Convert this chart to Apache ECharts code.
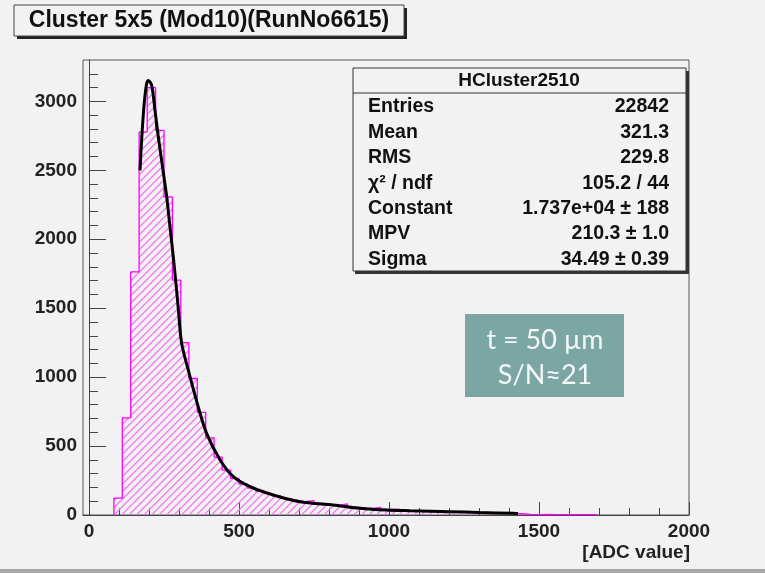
<!DOCTYPE html>
<html>
<head>
<meta charset="utf-8">
<script src="https://cdn.jsdelivr.net/npm/echarts@6/dist/echarts.min.js"></script>
<style>
  html, body { margin: 0; padding: 0; background: #f2f2f2; }
  #chart { width: 765px; height: 573px; }
</style>
</head>
<body>
<div id="chart"></div>
<script>
// histogram bins: left edge of each bin and its count
const binLeft = [83, 111, 139, 167, 194, 222, 250, 278, 306, 333, 361, 389, 417, 444, 472, 500,
  528, 556, 583, 611, 639, 667, 694, 722, 750, 778, 806, 833, 861, 889, 917, 944, 972, 1000,
  1028, 1056, 1083, 1111, 1139, 1167, 1194, 1222, 1250, 1278, 1306, 1333, 1361, 1389, 1417,
  1444, 1472, 1500, 1528, 1556, 1583, 1611, 1639, 1667]
const binCounts = [123, 705, 1763, 2777, 3100, 2790, 2307, 1703, 1250, 990, 745, 560, 420, 325, 265, 225,
  195, 172, 155, 138, 120, 108, 96, 105, 84, 76, 68, 80, 58, 50, 47, 56, 40, 43,
  34, 32, 30, 28, 27, 25, 23, 22, 20, 19, 17, 15, 14, 12, 9,
  4, 3, 4, 3, 2, 3, 2, 3, 2]
const lastEdge = 1694

// Landau fit curve
const fitX = [170, 176, 184, 192, 198, 209, 220, 231, 242, 259, 270, 281, 292, 298, 309, 337, 364, 392,
  437, 481, 537, 614, 703, 814, 903, 992, 1070, 1203, 1300, 1414, 1430]
const fitY = [2500, 2741, 2983, 3128, 3152, 3116, 2935, 2741, 2572, 2307, 2089, 1872, 1630, 1486, 1244,
  1002, 785, 592, 399, 278, 205, 145, 96, 72, 49, 36, 31, 24, 18, 12, 11]

const xMajor = [0, 500, 1000, 1500, 2000]
const xMinor = [0, 100, 200, 300, 400, 500, 600, 700, 800, 900, 1000, 1100, 1200, 1300, 1400,
  1500, 1600, 1700, 1800, 1900, 2000]
const yMajor = [0, 500, 1000, 1500, 2000, 2500, 3000]
const yMinor = [0, 100, 200, 300, 400, 500, 600, 700, 800, 900, 1000, 1100, 1200, 1300, 1400, 1500,
  1600, 1700, 1800, 1900, 2000, 2100, 2200, 2300, 2400, 2500, 2600, 2700, 2800, 2900, 3000, 3100, 3200]

const statsLabels = ['Entries', 'Mean', 'RMS', 'χ² / ndf', 'Constant', 'MPV', 'Sigma']
const statsValues = ['22842', '321.3', '229.8', '105.2 / 44', '1.737e+04 ± 188', '210.3 ± 1.0', '34.49 ± 0.39']

const font = '"Liberation Sans", Arial, sans-serif'
const axisColor = '#444'

// step outline of the histogram (data space)
const histData = [[binLeft[0], 0]]
binLeft.forEach((x, i) => histData.push([x, binCounts[i]]))
histData.push([lastEdge, 0])

const histOutline = [[binLeft[0], 0]]
binLeft.forEach((x, i) => {
  const right = i + 1 < binLeft.length ? binLeft[i + 1] : lastEdge
  histOutline.push([x, binCounts[i]], [right, binCounts[i]])
})
histOutline.push([lastEdge, 0])

const fitData = fitX.map((x, i) => [x, fitY[i]])

// "////" hatching, clipped to the histogram shape
function renderHatch(params, api) {
  const pts = histOutline.map(p => api.coord(p))
  const xs = pts.map(p => p[0])
  const ys = pts.map(p => p[1])
  const x0 = Math.min(...xs), x1 = Math.max(...xs)
  const y0 = Math.min(...ys), y1 = Math.max(...ys)
  const lines = []
  for (let c = x0 + y0; c <= x1 + y1; c += 7.5) {
    lines.push({
      type: 'line',
      shape: { x1: c - y1, y1: y1, x2: c - y0, y2: y0 },
      style: { stroke: '#f27ef2', lineWidth: 1.4 }
    })
  }
  return {
    type: 'group',
    children: lines,
    clipPath: { type: 'polygon', shape: { points: pts } }
  }
}

const statsGraphic = [
  { type: 'rect', shape: { x: 355, y: 71, width: 334, height: 203 }, style: { fill: '#333' } },
  { type: 'rect', shape: { x: 353, y: 68, width: 333, height: 203 }, style: { fill: '#f2f2f2', stroke: '#333', lineWidth: 1 } },
  { type: 'line', shape: { x1: 353, y1: 93, x2: 686, y2: 93 }, style: { stroke: '#333', lineWidth: 1 } },
  { type: 'text', x: 519, y: 81, style: { text: 'HCluster2510', font: 'bold 19px ' + font, fill: '#111', align: 'center', verticalAlign: 'middle' } }
]
statsLabels.forEach((label, i) => {
  const y = 107 + i * 25.4
  statsGraphic.push({ type: 'text', x: 368, y: y, style: { text: label, font: 'bold 19.5px ' + font, fill: '#111', verticalAlign: 'middle' } })
  statsGraphic.push({ type: 'text', x: 669, y: y, style: { text: statsValues[i], font: 'bold 19.5px ' + font, fill: '#111', align: 'right', verticalAlign: 'middle' } })
})

const chart = echarts.init(document.getElementById('chart'))

chart.setOption({
  backgroundColor: '#f2f2f2',
  animation: false,
  grid: {
    left: 83,
    right: 76,
    top: 60,
    bottom: 58,
    show: true,
    borderColor: '#555',
    borderWidth: 1,
    backgroundColor: 'transparent'
  },
  xAxis: [
    {
      type: 'value',
      min: -20,
      max: 2000,
      axisLine: { show: true, lineStyle: { color: axisColor } },
      axisTick: { show: true, inside: true, length: 13, customValues: xMajor, lineStyle: { color: axisColor } },
      axisLabel: {
        customValues: xMajor,
        formatter: v => String(v),
        color: '#222',
        fontFamily: font,
        fontWeight: 'bold',
        fontSize: 19,
        margin: 7
      },
      splitLine: { show: false }
    },
    {
      type: 'value',
      min: -20,
      max: 2000,
      position: 'bottom',
      axisLine: { show: false },
      axisTick: { show: true, inside: true, length: 7, customValues: xMinor, lineStyle: { color: axisColor } },
      axisLabel: { show: false },
      splitLine: { show: false }
    }
  ],
  yAxis: [
    {
      type: 'value',
      min: 0,
      max: 3300,
      axisLine: { show: true, lineStyle: { color: axisColor } },
      axisTick: { show: true, inside: true, length: 17, customValues: yMajor, lineStyle: { color: axisColor } },
      axisLabel: {
        customValues: yMajor,
        formatter: v => String(v),
        color: '#222',
        fontFamily: font,
        fontWeight: 'bold',
        fontSize: 19,
        margin: 6
      },
      splitLine: { show: false }
    },
    {
      type: 'value',
      min: 0,
      max: 3300,
      position: 'left',
      axisLine: { show: false },
      axisTick: { show: true, inside: true, length: 9, customValues: yMinor, lineStyle: { color: axisColor } },
      axisLabel: { show: false },
      splitLine: { show: false }
    }
  ],
  series: [
    {
      name: 'hatch',
      type: 'custom',
      renderItem: renderHatch,
      data: [[0, 0]],
      silent: true,
      z: 1
    },
    {
      name: 'HCluster2510',
      type: 'line',
      step: 'end',
      data: histData,
      symbol: 'none',
      lineStyle: { color: '#ff00ff', width: 1.3 },
      z: 2
    },
    {
      name: 'landau',
      type: 'line',
      data: fitData,
      symbol: 'none',
      smooth: 0.3,
      lineStyle: { color: '#000', width: 3 },
      z: 3
    }
  ],
  graphic: [
    // title box with shadow
    { type: 'rect', shape: { x: 17, y: 8, width: 390, height: 31 }, style: { fill: '#222' } },
    { type: 'rect', shape: { x: 14, y: 5, width: 390, height: 31 }, style: { fill: '#f2f2f2', stroke: '#444', lineWidth: 1 } },
    { type: 'text', x: 209, y: 21, style: { text: 'Cluster 5x5 (Mod10)(RunNo6615)', font: 'bold 23px ' + font, fill: '#111', align: 'center', verticalAlign: 'middle' } },
    ...statsGraphic,
    // annotation box
    { type: 'rect', shape: { x: 465, y: 314, width: 159, height: 83 }, style: { fill: '#7ba6a4' } },
    { type: 'text', x: 545, y: 340, style: { text: 't = 50 µm', font: '27px Lato, "Open Sans", sans-serif', fill: '#f4f8f8', align: 'center', verticalAlign: 'middle' } },
    { type: 'text', x: 545, y: 375, style: { text: 'S/N≈21', font: '27px Lato, "Open Sans", sans-serif', fill: '#f4f8f8', align: 'center', verticalAlign: 'middle' } },
    // x axis title
    { type: 'text', x: 690, y: 553, style: { text: '[ADC value]', font: 'bold 19px ' + font, fill: '#222', align: 'right', verticalAlign: 'middle' } },
    // canvas bottom edge
    { type: 'rect', shape: { x: 0, y: 569, width: 765, height: 4 }, style: { fill: '#a8a8a8' } }
  ]
})
</script>
</body>
</html>
